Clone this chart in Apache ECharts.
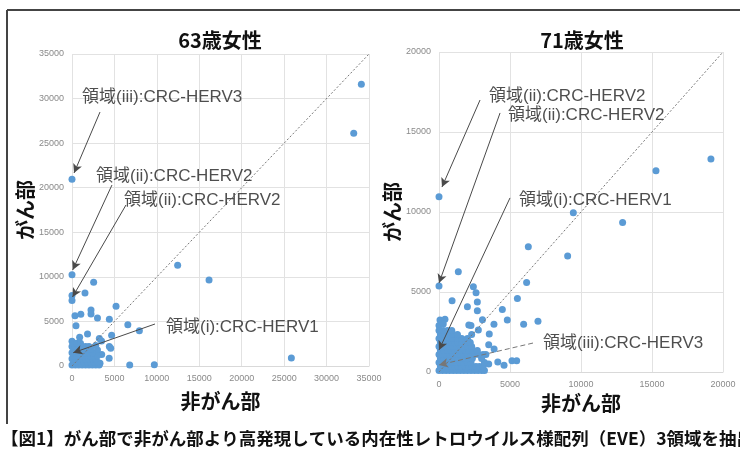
<!DOCTYPE html>
<html>
<head>
<meta charset="utf-8">
<script src="https://cdn.jsdelivr.net/npm/echarts@6/dist/echarts.min.js"></script>
<style>
  html, body { margin: 0; padding: 0; background: #fff; }
  #chart { width: 740px; height: 449px; }
</style>
</head>
<body>
<div id="chart"></div>
<script>
// 63歳女性: [非がん部, がん部]
var women63Points = [
  [34100, 31600], [33200, 26100], [0, 20950], [12450, 11300], [16150, 9650],
  [25850, 900], [9700, 150], [6800, 100], [0, 10250], [2550, 9400],
  [1530, 8200], [0, 7900], [0, 7350], [5190, 6700], [2240, 6280],
  [2240, 5820], [350, 5640], [1040, 5800], [3000, 5380], [4400, 5240],
  [470, 4520], [6580, 4620], [7940, 3960], [900, 3230], [1830, 3580],
  [0, 2780], [3220, 3080], [3480, 2800], [4670, 3440], [4400, 2200],
  [4560, 1980], [4380, 860], [3500, 1300], [3000, 1800], [3300, 300], [2800, 2300],
  // dense cluster
  [0, 100], [400, 100], [800, 100], [1200, 100], [1600, 100], [2000, 100], [2400, 100], [2800, 100], [3200, 100],
  [200, 450], [600, 450], [1000, 450], [1400, 450], [1800, 450], [2200, 450], [2600, 450], [3000, 450],
  [0, 800], [400, 800], [800, 800], [1200, 800], [1600, 800], [2000, 800], [2400, 800], [2800, 800],
  [200, 1150], [600, 1150], [1000, 1150], [1400, 1150], [1800, 1150], [2200, 1150], [2600, 1150], [3000, 1150],
  [0, 1500], [400, 1500], [800, 1500], [1200, 1500], [1600, 1500], [2000, 1500], [2400, 1500],
  [200, 1850], [600, 1850], [1000, 1850], [1400, 1850], [1800, 1850], [2200, 1850],
  [0, 2200], [400, 2200], [800, 2200], [1200, 2200], [1600, 2200], [2000, 2200],
  [200, 2550], [600, 2550], [1000, 2550]
];

// 71歳女性: [非がん部, がん部]
var women71Points = [
  [0, 10960], [9460, 9960], [12930, 9350], [15280, 12580], [19150, 13310],
  [6290, 7830], [9060, 7250], [1360, 6270], [0, 5380], [6170, 5590],
  [2420, 5330], [2610, 4960], [920, 4460], [2700, 4380], [2700, 3830],
  [5520, 4600], [2000, 4080], [4460, 3910], [3060, 3270], [4810, 3250],
  [6970, 3170], [5960, 2980], [3870, 2980], [70, 3250], [420, 3290],
  [2100, 2940], [2250, 2900], [2770, 2620], [3540, 2370], [3880, 1440],
  [4140, 620], [4580, 420], [5140, 710], [5470, 710], [0, 2900], [300, 3000],
  [3500, 1700], [3300, 1100], [3500, 500],
  // dense cluster
  [0, 100], [250, 100], [500, 100], [750, 100], [1000, 100], [1250, 100], [1500, 100], [1750, 100],
  [2000, 100], [2250, 100], [2500, 100], [2750, 100], [3000, 100], [3200, 100],
  [100, 350], [350, 350], [600, 350], [850, 350], [1100, 350], [1350, 350], [1600, 350], [1850, 350],
  [2100, 350], [2350, 350], [2600, 350], [2850, 350], [3100, 350],
  [0, 600], [250, 600], [500, 600], [750, 600], [1000, 600], [1250, 600], [1500, 600], [1750, 600],
  [2000, 600], [2250, 600], [3200, 600],
  [100, 850], [350, 850], [600, 850], [850, 850], [1100, 850], [1350, 850], [1600, 850], [1850, 850],
  [2100, 850], [2350, 850], [3000, 850],
  [0, 1100], [250, 1100], [500, 1100], [750, 1100], [1000, 1100], [1250, 1100], [1500, 1100], [1750, 1100],
  [2000, 1100], [2250, 1100], [2500, 1100], [2800, 1100], [3100, 1100],
  [100, 1350], [350, 1350], [600, 1350], [850, 1350], [1100, 1350], [1350, 1350], [1600, 1350], [1850, 1350],
  [2100, 1350], [2400, 1350], [2700, 1350],
  [0, 1600], [250, 1600], [500, 1600], [750, 1600], [1000, 1600], [1250, 1600], [1500, 1600], [1750, 1600],
  [2000, 1600], [2300, 1600],
  [100, 1850], [350, 1850], [600, 1850], [850, 1850], [1100, 1850], [1350, 1850], [1600, 1850], [1900, 1850],
  [2200, 1850],
  [0, 2100], [250, 2100], [500, 2100], [750, 2100], [1000, 2100], [1300, 2100], [1600, 2100], [2000, 2100],
  [100, 2350], [400, 2350], [700, 2350], [1000, 2350], [1300, 2350], [2300, 2350],
  [0, 2600], [300, 2600], [600, 2600], [900, 2600]
];

// annotation labels: [text, x, y] in data units
var women63Notes = [
  ['領域(iii):CRC-HERV3', 1180, 30180],
  ['領域(ii):CRC-HERV2', 2830, 21310],
  ['領域(ii):CRC-HERV2', 6130, 18620],
  ['領域(i):CRC-HERV1', 11080, 4370]
];
var women71Notes = [
  ['領域(ii):CRC-HERV2', 3520, 17250],
  ['領域(ii):CRC-HERV2', 4860, 16060],
  ['領域(i):CRC-HERV1', 5630, 10750],
  ['領域(iii):CRC-HERV3', 7320, 1810]
];
// arrows: [fromX, fromY, toX, toY, dashed]
var women63Arrows = [
  [3300, 28490, 240, 21650, false],
  [4710, 20300, 80, 10770, false],
  [6360, 18060, 60, 7740, false],
  [9780, 4710, 150, 1490, false]
];
var women71Arrows = [
  [2890, 17000, 210, 11560, false],
  [4300, 16190, 0, 5560, false],
  [5000, 10880, 0, 1380, false],
  [6620, 1810, 0, 440, true]
];

var chartTitles = ['63歳女性', '71歳女性'];
var axisMax = [35000, 20000];
var caption = '【図1】がん部で非がん部より高発現している内在性レトロウイルス様配列（EVE）3領域を抽出';

var sFont = 'Liberation Sans, "Noto Sans CJK JP", sans-serif';
var sJpFont = '"Noto Sans CJK JP", sans-serif';

function makeAxis(idx, name, isX) {
  var o = {
    type: 'value',
    gridIndex: idx,
    min: 0,
    max: axisMax[idx],
    interval: 5000,
    name: name,
    nameLocation: 'middle',
    nameTextStyle: {fontFamily: sJpFont, fontSize: 20, fontWeight: 'bold', color: '#111'},
    axisLine: {show: isX, lineStyle: {color: '#d9d9d9'}},
    axisTick: {show: false},
    axisLabel: {
      fontFamily: sFont, fontSize: 9, color: '#8a8a8a', margin: 8,
      formatter: function (v) { return String(v); }
    },
    splitLine: {show: true, lineStyle: {color: '#e2e2e2', width: 1}}
  };
  if (isX) {
    o.nameGap = idx === 0 ? 25 : 19;
  } else {
    o.nameRotate = 90;
    o.nameGap = idx === 0 ? 35 : 36;
  }
  return o;
}

function noteSeries(idx, notes, arrows) {
  var lines = [];
  arrows.forEach(function (a) {
    lines.push([
      {coord: [a[0], a[1]], lineStyle: {type: a[4] ? [5, 3] : 'solid', color: a[4] ? '#777' : '#4a4a4a'}},
      {coord: [a[2], a[3]]}
    ]);
  });
  lines.push([
    {coord: [0, 0], symbol: 'none', lineStyle: {type: [2, 2], color: '#777', width: 1}},
    {coord: [axisMax[idx], axisMax[idx]], symbol: 'none'}
  ]);
  return {
    type: 'scatter',
    xAxisIndex: idx,
    yAxisIndex: idx,
    symbolSize: 0,
    silent: true,
    z: 5,
    data: notes.map(function (n) { return {name: n[0], value: [n[1], n[2]]}; }),
    label: {
      show: true,
      position: 'right',
      distance: 0,
      formatter: '{b}',
      fontFamily: sFont,
      fontSize: 17,
      color: '#222'
    },
    markLine: {
      silent: true,
      symbol: ['none', 'arrow'],
      symbolSize: [7, 9],
      label: {show: false},
      lineStyle: {color: '#4a4a4a', width: 1},
      data: lines
    }
  };
}

var oChart = echarts.init(document.getElementById('chart'), null, {renderer: 'canvas'});
var oChartOpt = {
  animation: false,
  backgroundColor: '#fff',
  title: [
    {text: chartTitles[0], left: 215, top: 25, textAlign: 'center',
      textStyle: {fontFamily: sJpFont, fontSize: 20, fontWeight: 'bold', color: '#111'}},
    {text: chartTitles[1], left: 577, top: 25, textAlign: 'center',
      textStyle: {fontFamily: sJpFont, fontSize: 20, fontWeight: 'bold', color: '#111'}}
  ],
  grid: [
    {left: 72, top: 54, width: 297, height: 312},
    {left: 439, top: 52, width: 284, height: 320}
  ],
  xAxis: [makeAxis(0, '非がん部', true), makeAxis(1, '非がん部', true)],
  yAxis: [makeAxis(0, 'がん部', false), makeAxis(1, 'がん部', false)],
  series: [
    {type: 'scatter', xAxisIndex: 0, yAxisIndex: 0, symbolSize: 7,
      itemStyle: {color: '#5B9BD5', opacity: 1}, data: women63Points, z: 3},
    {type: 'scatter', xAxisIndex: 1, yAxisIndex: 1, symbolSize: 7,
      itemStyle: {color: '#5B9BD5', opacity: 1}, data: women71Points, z: 3},
    noteSeries(0, women63Notes, women63Arrows),
    noteSeries(1, women71Notes, women71Arrows)
  ],
  graphic: [
    {type: 'line', shape: {x1: 7, y1: 10, x2: 740, y2: 10}, style: {stroke: '#444', lineWidth: 2}},
    {type: 'line', shape: {x1: 7, y1: 10, x2: 7, y2: 424}, style: {stroke: '#444', lineWidth: 2}},
    {type: 'text', left: 1, top: 430,
      style: {text: caption, fontFamily: sJpFont, fontSize: 17.5, fontWeight: 'bold', fill: '#111'}}
  ]
};
oChart.setOption(oChartOpt);
</script>
</body>
</html>
